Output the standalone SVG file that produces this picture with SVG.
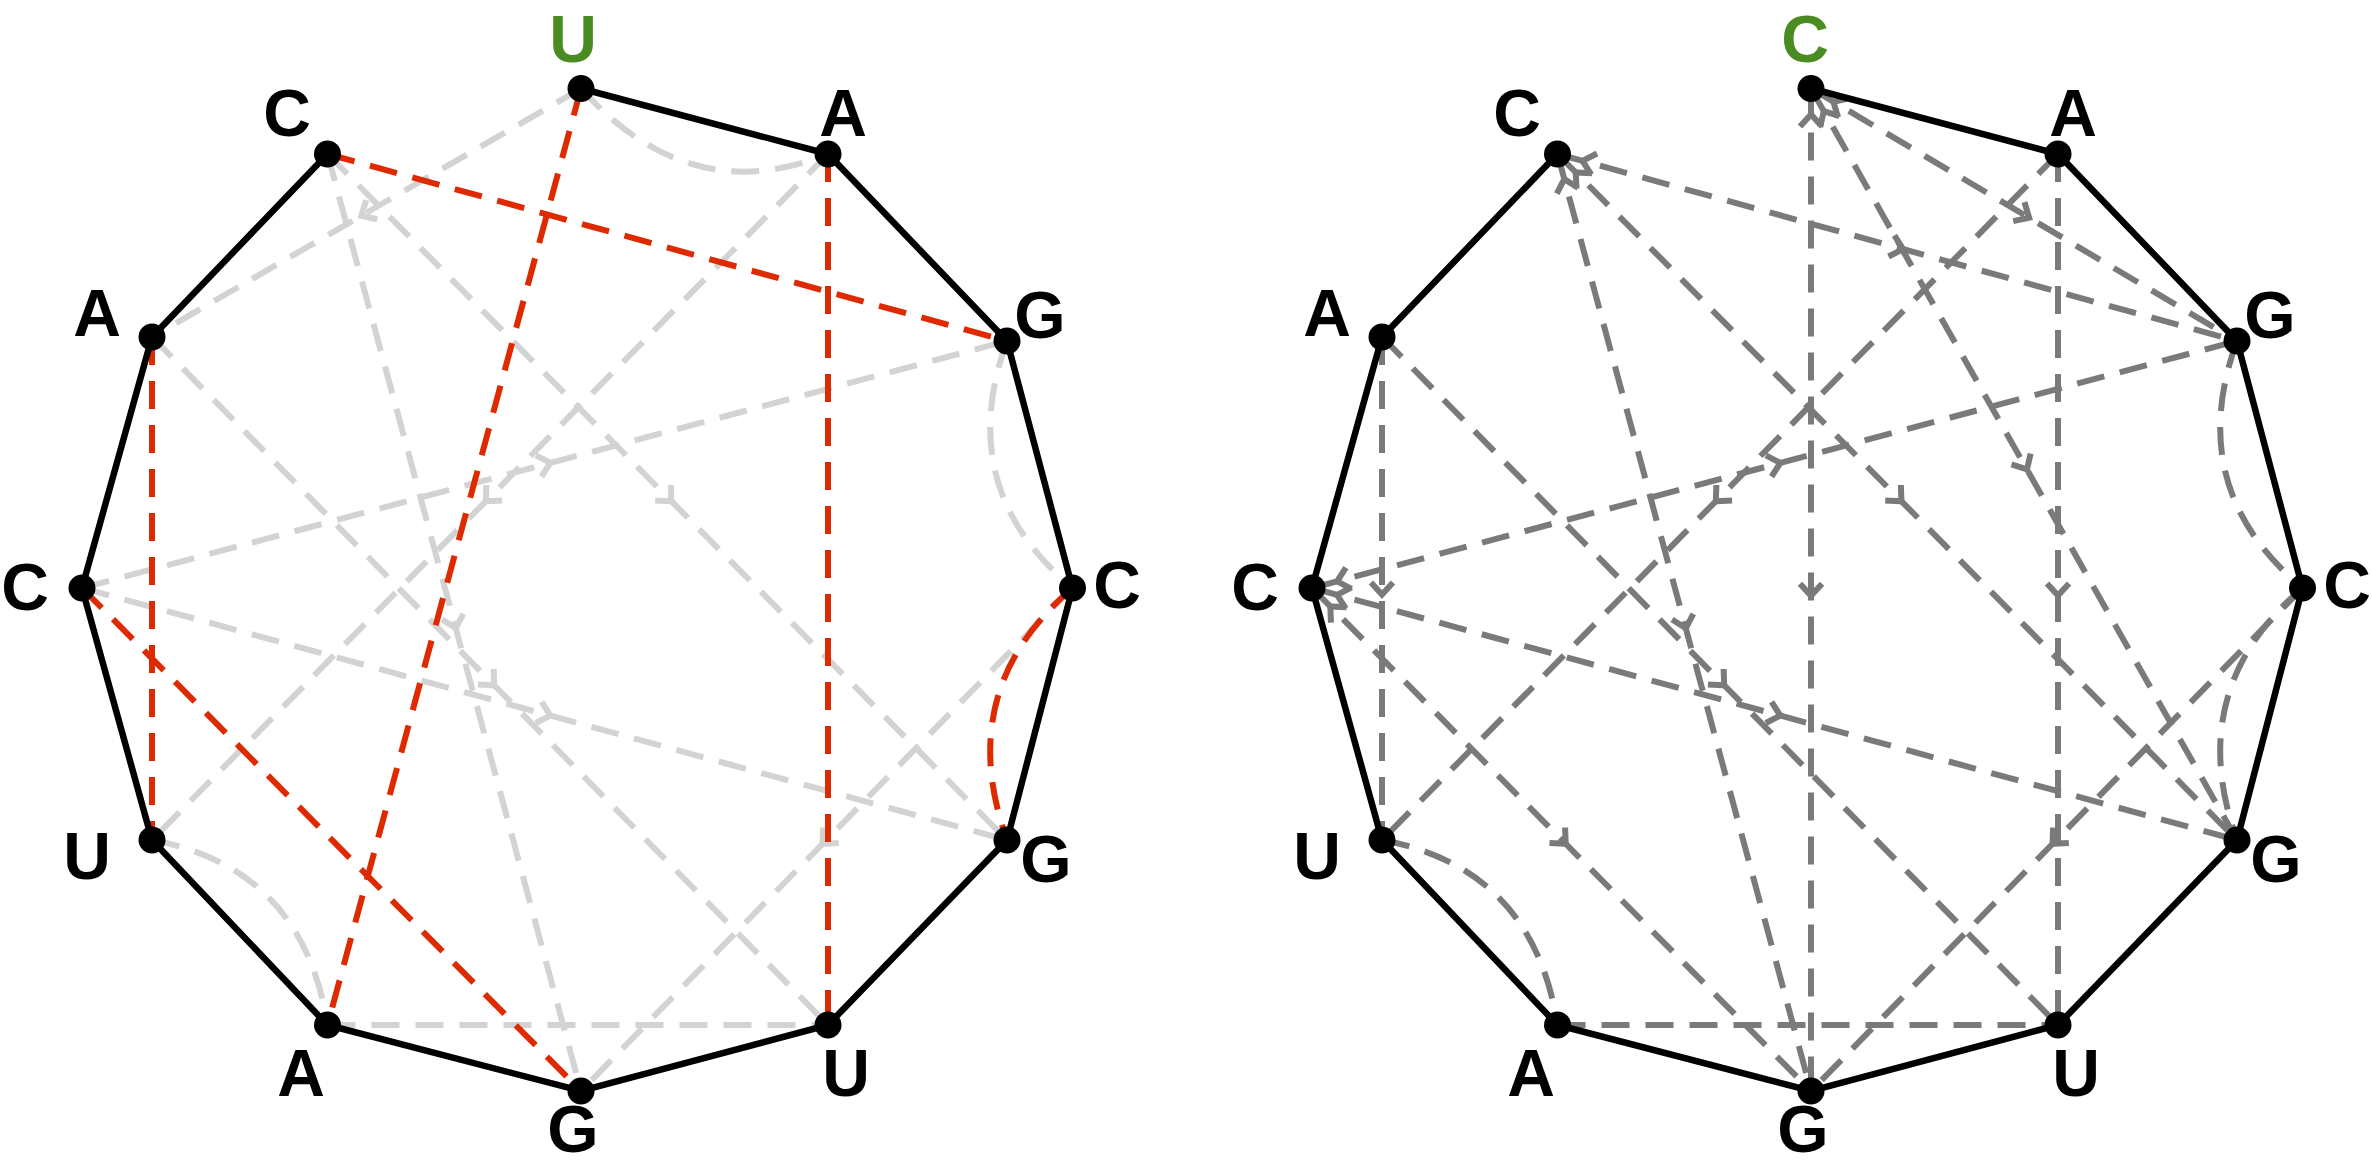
<svg xmlns="http://www.w3.org/2000/svg" width="2372" height="1168" viewBox="0 0 2372 1168">
<style>
.edge{fill:none;stroke:#000;stroke-width:6.5}
.lg{fill:none;stroke:#d3d3d3;stroke-width:6;stroke-dasharray:28 16}
.rd{fill:none;stroke:#dd2a00;stroke-width:6;stroke-dasharray:28 16}
.dg{fill:none;stroke:#7a7a7a;stroke-width:6;stroke-dasharray:28 16}
.lbl{font-family:"Liberation Sans",Arial,sans-serif;font-weight:bold;font-size:66px;text-anchor:middle;fill:#000}
.top{fill:#4a8c22}
.dot{fill:#000}
</style>
<defs>
<marker id="mL" markerUnits="userSpaceOnUse" markerWidth="30" markerHeight="30" viewBox="-15 -15 30 30" orient="auto"><path d="M-6,-11 L6,0 L-6,11" fill="none" stroke="#d3d3d3" stroke-width="6"/></marker>
<marker id="mD" markerUnits="userSpaceOnUse" markerWidth="30" markerHeight="30" viewBox="-15 -15 30 30" orient="auto"><path d="M-6,-11 L6,0 L-6,11" fill="none" stroke="#7a7a7a" stroke-width="6"/></marker>
<marker id="sD" markerUnits="userSpaceOnUse" markerWidth="60" markerHeight="60" viewBox="-45 -15 60 30" orient="auto-start-reverse"><path d="M-38,-11 L-26,0 L-38,11" fill="none" stroke="#7a7a7a" stroke-width="6"/></marker>
</defs>

<g id="connectors-left">
<path class="lg" marker-mid="url(#mL)" d="M581,88.5 L366.5,212.75 L152,337"/>
<path class="lg" marker-mid="url(#mL)" d="M828,154 L490,497 L152,840"/>
<path class="lg" marker-mid="url(#mL)" d="M327.5,154 L454.25,622.5 L581,1091"/>
<path class="lg" marker-mid="url(#mL)" d="M327.5,154 L667.25,497 L1007,840"/>
<path class="lg" marker-mid="url(#mL)" d="M152,337 L490,681 L828,1025"/>
<path class="lg" marker-mid="url(#mL)" d="M82,588 L544.5,464.5 L1007,341"/>
<path class="lg" marker-mid="url(#mL)" d="M82,588 L544.5,714 L1007,840"/>
<path class="lg" marker-mid="url(#mL)" d="M1072.5,588 L826.75,839.5 L581,1091"/>
<path class="lg" d="M327.5,1025 L828,1025"/>
<path class="lg" d="M581,88.5 Q690,210 828,154"/>
<path class="lg" d="M1007,341 Q953,488 1072.5,588"/>
<path class="lg" d="M152,840 Q303,868 327.5,1025"/>
<path class="rd" d="M327.5,154 L1007,341"/>
<path class="rd" d="M581,88.5 L327.5,1025"/>
<path class="rd" d="M828,154 L828,1025"/>
<path class="rd" d="M152,337 L152,840"/>
<path class="rd" d="M82,588 L581,1091"/>
<path class="rd" d="M1072.5,588 Q953,690 1007,840"/>
</g>

<g id="connectors-right" transform="translate(1230,0)">
<path class="dg" marker-start="url(#sD)" marker-mid="url(#mD)" d="M581,88.5 L581,589.75 L581,1091"/>
<path class="dg" marker-start="url(#sD)" marker-mid="url(#mD)" d="M581,88.5 L794,214.75 L1007,341"/>
<path class="dg" marker-start="url(#sD)" marker-mid="url(#mD)" d="M581,88.5 L794,464.25 L1007,840"/>
<path class="dg" marker-mid="url(#mD)" d="M828,154 L828,589.5 L828,1025"/>
<path class="dg" marker-mid="url(#mD)" d="M828,154 L490,497 L152,840"/>
<path class="dg" marker-start="url(#sD)" marker-mid="url(#mD)" d="M327.5,154 L667.25,247.5 L1007,341"/>
<path class="dg" marker-start="url(#sD)" marker-mid="url(#mD)" d="M327.5,154 L667.25,497 L1007,840"/>
<path class="dg" marker-start="url(#sD)" marker-mid="url(#mD)" d="M327.5,154 L454.25,622.5 L581,1091"/>
<path class="dg" marker-mid="url(#mD)" d="M152,337 L152,588.5 L152,840"/>
<path class="dg" marker-mid="url(#mD)" d="M152,337 L490,681 L828,1025"/>
<path class="dg" marker-start="url(#sD)" marker-mid="url(#mD)" d="M82,588 L544.5,464.5 L1007,341"/>
<path class="dg" marker-start="url(#sD)" marker-mid="url(#mD)" d="M82,588 L544.5,714 L1007,840"/>
<path class="dg" marker-start="url(#sD)" marker-mid="url(#mD)" d="M82,588 L331.5,839.5 L581,1091"/>
<path class="dg" marker-mid="url(#mD)" d="M1072.5,588 L826.75,839.5 L581,1091"/>
<path class="dg" d="M327.5,1025 L828,1025"/>
<path class="dg" d="M1007,341 Q953,488 1072.5,588"/>
<path class="dg" d="M1072.5,588 Q953,690 1007,840"/>
<path class="dg" d="M152,840 Q303,868 327.5,1025"/>
</g>

<g id="backbone-left">
<polyline class="edge" points="581,88.5 828,154 1007,341 1072.5,588 1007,840 828,1025 581,1091 327.5,1025 152,840 82,588 152,337 327.5,154"/>
</g>
<g id="backbone-right" transform="translate(1230,0)">
<polyline class="edge" points="581,88.5 828,154 1007,341 1072.5,588 1007,840 828,1025 581,1091 327.5,1025 152,840 82,588 152,337 327.5,154"/>
</g>

<g id="left-nodes">
<g id="L0"><circle class="dot" cx="581" cy="88.5" r="13.5"/><text class="lbl top" x="573" y="62">U</text></g>
<g id="L1"><circle class="dot" cx="828" cy="154" r="13.5"/><text class="lbl" x="843" y="136">A</text></g>
<g id="L2"><circle class="dot" cx="1007" cy="341" r="13.5"/><text class="lbl" x="1040" y="338">G</text></g>
<g id="L3"><circle class="dot" cx="1072.5" cy="588" r="13.5"/><text class="lbl" x="1117" y="608">C</text></g>
<g id="L4"><circle class="dot" cx="1007" cy="840" r="13.5"/><text class="lbl" x="1046" y="882">G</text></g>
<g id="L5"><circle class="dot" cx="828" cy="1025" r="13.5"/><text class="lbl" x="846" y="1096">U</text></g>
<g id="L6"><circle class="dot" cx="581" cy="1091" r="13.5"/><text class="lbl" x="573" y="1152">G</text></g>
<g id="L7"><circle class="dot" cx="327.5" cy="1025" r="13.5"/><text class="lbl" x="301" y="1096">A</text></g>
<g id="L8"><circle class="dot" cx="152" cy="840" r="13.5"/><text class="lbl" x="87" y="879">U</text></g>
<g id="L9"><circle class="dot" cx="82" cy="588" r="13.5"/><text class="lbl" x="25" y="610">C</text></g>
<g id="L10"><circle class="dot" cx="152" cy="337" r="13.5"/><text class="lbl" x="97" y="336">A</text></g>
<g id="L11"><circle class="dot" cx="327.5" cy="154" r="13.5"/><text class="lbl" x="287" y="136">C</text></g>
</g>

<g id="right-nodes" transform="translate(1230,0)">
<g id="R0"><circle class="dot" cx="581" cy="88.5" r="13.5"/><text class="lbl top" x="575" y="62">C</text></g>
<g id="R1"><circle class="dot" cx="828" cy="154" r="13.5"/><text class="lbl" x="843" y="136">A</text></g>
<g id="R2"><circle class="dot" cx="1007" cy="341" r="13.5"/><text class="lbl" x="1040" y="338">G</text></g>
<g id="R3"><circle class="dot" cx="1072.5" cy="588" r="13.5"/><text class="lbl" x="1117" y="608">C</text></g>
<g id="R4"><circle class="dot" cx="1007" cy="840" r="13.5"/><text class="lbl" x="1046" y="882">G</text></g>
<g id="R5"><circle class="dot" cx="828" cy="1025" r="13.5"/><text class="lbl" x="846" y="1096">U</text></g>
<g id="R6"><circle class="dot" cx="581" cy="1091" r="13.5"/><text class="lbl" x="573" y="1152">G</text></g>
<g id="R7"><circle class="dot" cx="327.5" cy="1025" r="13.5"/><text class="lbl" x="301" y="1096">A</text></g>
<g id="R8"><circle class="dot" cx="152" cy="840" r="13.5"/><text class="lbl" x="87" y="879">U</text></g>
<g id="R9"><circle class="dot" cx="82" cy="588" r="13.5"/><text class="lbl" x="25" y="610">C</text></g>
<g id="R10"><circle class="dot" cx="152" cy="337" r="13.5"/><text class="lbl" x="97" y="336">A</text></g>
<g id="R11"><circle class="dot" cx="327.5" cy="154" r="13.5"/><text class="lbl" x="287" y="136">C</text></g>
</g>
</svg>
